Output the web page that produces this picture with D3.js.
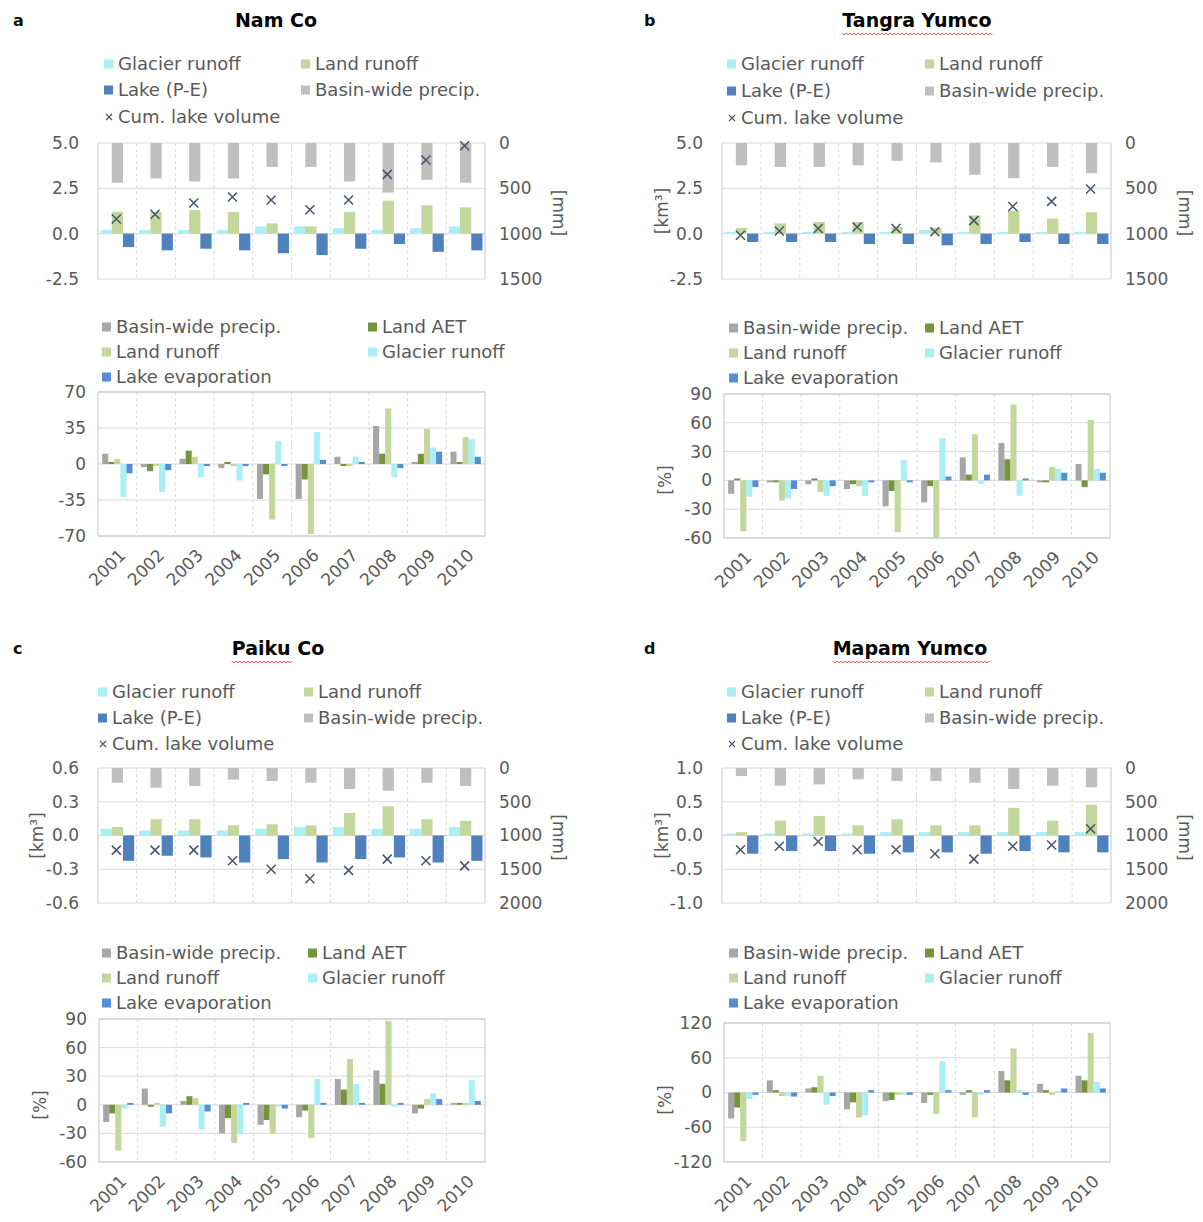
<!DOCTYPE html>
<html><head><meta charset="utf-8">
<script src="https://cdn.jsdelivr.net/npm/d3@7"></script>
<style>
body{margin:0;background:#fff}
svg{display:block}
text{font-family:"DejaVu Sans",sans-serif}
</style>
</head><body>
<svg id="chart" width="1203" height="1222"></svg>
<script>
// ---------------- DATA ----------------
const years = ["2001","2002","2003","2004","2005","2006","2007","2008","2009","2010"];

// a: Nam Co (km3, mm)
const namGlacier = [0.2,0.2,0.2,0.2,0.4,0.4,0.3,0.2,0.3,0.4];
const namLand    = [1.21,1.2,1.3,1.2,0.57,0.4,1.2,1.82,1.56,1.45];
const namLake    = [-0.74,-0.92,-0.83,-0.92,-1.08,-1.18,-0.83,-0.57,-1.0,-0.92];
const namPrecip  = [438,391,424,391,264,264,424,547,406,438];
const namCum     = [0.81,1.07,1.69,2.02,1.86,1.32,1.86,3.27,4.06,4.85];
// a: Nam Co (%)
const namPctPrecip  = [10,-3,5,-4,-34,-34,7,37,2,12];
const namPctAET     = [2,-7,13,2,-10,-15,-2,10,10,2];
const namPctLand    = [5,-2,7,-2,-54,-68,-2,54,34,26];
const namPctGlacier = [-32,-27,-13,-16,22,31,7,-13,16,24];
const namPctEvap    = [-9,-6,-2,-2,-2,4,2,-4,12,7];

// b: Tangra Yumco
const tanGlacier = [0.1,0.1,0.1,0.1,0.1,0.2,0.1,0.1,0.1,0.1];
const tanLand    = [0.31,0.57,0.64,0.64,0.37,0.31,1.01,1.27,0.83,1.18];
const tanLake    = [-0.46,-0.46,-0.46,-0.57,-0.57,-0.64,-0.57,-0.46,-0.57,-0.57];
const tanPrecip  = [246,264,264,246,196,214,351,388,264,333];
const tanCum     = [-0.09,0.15,0.28,0.37,0.28,0.11,0.72,1.5,1.78,2.46];
const tanPctPrecip  = [-14,-2,-4,-9,-27,-23,24,39,-2,17];
const tanPctAET     = [2,-2,2,-4,-11,-6,6,22,-2,-7];
const tanPctLand    = [-53,-21,-12,-6,-54,-62,48,79,14,63];
const tanPctGlacier = [-17,-19,-16,-16,21,44,-4,-16,12,12];
const tanPctEvap    = [-7,-9,-6,-2,-2,4,6,2,8,8];

// c: Paiku Co
const paiGlacier = [0.06,0.045,0.045,0.045,0.06,0.075,0.075,0.06,0.06,0.075];
const paiLand    = [0.075,0.145,0.145,0.09,0.10,0.09,0.20,0.26,0.145,0.13];
const paiLake    = [-0.225,-0.18,-0.195,-0.24,-0.21,-0.24,-0.21,-0.195,-0.24,-0.225];
const paiPrecip  = [218,292,267,173,193,218,312,337,218,267];
const paiCum     = [-0.13,-0.13,-0.13,-0.225,-0.30,-0.385,-0.31,-0.21,-0.225,-0.27];
const paiPctPrecip  = [-18,17,4,-30,-21,-13,27,36,-9,2];
const paiPctAET     = [-9,-2,9,-14,-16,-6,16,22,-4,2];
const paiPctLand    = [-48,2,7,-40,-30,-35,48,88,6,2];
const paiPctGlacier = [-4,-23,-26,-30,-2,27,22,-2,12,26];
const paiPctEvap    = [2,-9,-7,2,-4,2,2,2,6,4];

// d: Mapam Yumco
const mapGlacier = [0.03,0.03,0.03,0.03,0.05,0.05,0.05,0.05,0.05,0.05];
const mapLand    = [0.05,0.22,0.29,0.15,0.24,0.15,0.15,0.41,0.22,0.455];
const mapLake    = [-0.27,-0.23,-0.23,-0.27,-0.25,-0.25,-0.27,-0.23,-0.25,-0.25];
const mapPrecip  = [119,262,243,168,193,193,218,312,262,287];
const mapCum     = [-0.21,-0.16,-0.09,-0.21,-0.21,-0.27,-0.35,-0.16,-0.14,0.10];
const mapPctPrecip  = [-45,21,7,-29,-15,-18,-4,37,15,29];
const mapPctAET     = [-26,4,9,-17,-13,-4,4,21,4,21];
const mapPctLand    = [-84,-6,29,-43,-4,-37,-43,76,-4,103];
const mapPctGlacier = [-11,-6,-21,-40,-4,54,-4,4,3,18];
const mapPctEvap    = [-4,-7,-6,4,-4,4,4,-4,7,7];

// tick labels
const ticksNamTop = [-2.5,0,2.5,5];
const ticksPaiTop = [-0.6,-0.3,0,0.3,0.6];
const ticksMapTop = [-1,-0.5,0,0.5,1];
const ticksMm1500 = [0,500,1000,1500];
const ticksMm2000 = [0,500,1000,1500,2000];
const ticksNamPct = [-70,-35,0,35,70];
const ticksPct90  = [-60,-30,0,30,60,90];
const ticksPct120 = [-120,-60,0,60,120];

const topLegendLabels = ["Glacier runoff","Land runoff","Lake (P-E)","Basin-wide precip.","Cum. lake volume"];
const botLegendLabels = ["Basin-wide precip.","Land AET","Land runoff","Glacier runoff","Lake evaporation"];

// ---------------- STYLE ----------------
const C = {glacier:"#aaeef6", land:"#c3d69b", lake:"#4f81bd", precipTop:"#bfbfbf",
           cum:"#44546a", precipPct:"#a6a6a6", aet:"#77933c", evap:"#558ed5"};
const TXT = "#595959", GRID = "#d9d9d9", AXIS = "#c6c6c6";
const FONT = '"DejaVu Sans",sans-serif';

const svg = d3.select("#chart");
const fmtDash = f => d => f(d).replace("\u2212","-");

function legend(items, cols, rows) {
  const g = svg.append("g").attr("font-size", 18).attr("fill", TXT);
  items.forEach((it, i) => {
    const cx = cols[i % 2], cy = rows[Math.floor(i / 2)];
    if (it.type === "x") {
      g.append("path").attr("d", `M${cx-12},${cy-3}l6,6M${cx-12},${cy+3}l6,-6`)
        .attr("stroke", C.cum).attr("stroke-width", 1.1).attr("fill","none");
    } else {
      g.append("rect").attr("x", cx-14).attr("y", cy-4.5).attr("width", 9).attr("height", 9).attr("fill", it.color);
    }
    g.append("text").attr("x", cx).attr("y", cy).attr("dy","0.36em").text(it.label);
  });
}

function rotLabel(x, y, angle, label) {
  svg.append("text").attr("transform", `translate(${x},${y}) rotate(${angle})`)
    .attr("text-anchor","middle").attr("dy","0.36em").attr("font-size",17).attr("fill",TXT).text(label);
}

function header(p) {
  svg.append("text").attr("x", p.lx).attr("y", p.ly).attr("font-size", 16).attr("font-weight","bold").attr("fill","#111").text(p.letter);
  const t = svg.append("text").attr("x", p.tx).attr("y", p.ty).attr("text-anchor","middle")
    .attr("font-size", 19).attr("font-weight","bold").attr("fill","#000");
  const parts = p.title.split(" ");
  const sp = [];
  parts.forEach((w, i) => { sp.push(t.append("tspan").text(i ? " " + w : w)); });
  if (p.wavy) {
    const total = t.node().getComputedTextLength();
    const x0 = p.tx - total / 2;
    let len = total;
    if (p.wavy === "first") len = sp[0].node().getComputedTextLength();
    let d = `M${x0},${p.ty+6}`;
    for (let xx = x0, k = 0; xx < x0 + len; xx += 2, k++) d += `L${xx+2},${p.ty + 6 + (k % 2 ? 0 : 2)}`;
    svg.append("path").attr("d", d).attr("stroke", "#e0413c").attr("stroke-width", 1).attr("fill","none");
  }
}

function styleTicks(a) {
  a.select(".domain").remove();
  a.selectAll("text").attr("font-size", 17).attr("fill", TXT).attr("font-family", FONT);
}

function drawTop(cfg) {
  const g = svg.append("g");
  const x = d3.scaleBand().domain(years).range([cfg.left, cfg.right]);
  const y = d3.scaleLinear().domain(cfg.yDomain).range([cfg.bottom, cfg.top]);
  const y2 = d3.scaleLinear().domain([cfg.y2Max, 0]).range([cfg.bottom, cfg.top]);
  const inner = d3.scaleBand().domain(["glacier","land","lake"]).range([0, x.bandwidth()]).paddingOuter(0.225);
  const bw = inner.bandwidth();

  g.append("g").selectAll("line").data(cfg.yTicks).join("line")
    .attr("x1", cfg.left).attr("x2", cfg.right).attr("y1", d => y(d)).attr("y2", d => y(d)).attr("stroke", GRID);
  g.append("g").selectAll("line").data(years.slice(1)).join("line")
    .attr("x1", d => x(d)).attr("x2", d => x(d)).attr("y1", cfg.top).attr("y2", cfg.bottom)
    .attr("stroke", GRID).attr("stroke-dasharray", "3,3");

  const series = [
    {key:"glacier", values:cfg.glacier, color:C.glacier},
    {key:"land", values:cfg.land, color:C.land},
    {key:"lake", values:cfg.lake, color:C.lake}];
  series.forEach(s => {
    g.append("g").selectAll("rect").data(years.map((yr, i) => ({yr, v:s.values[i]}))).join("rect")
      .attr("x", d => x(d.yr) + inner(s.key)).attr("width", bw)
      .attr("y", d => Math.min(y(d.v), y(0))).attr("height", d => Math.abs(y(d.v) - y(0)))
      .attr("fill", s.color);
  });
  g.append("g").selectAll("rect").data(years.map((yr, i) => ({yr, v:cfg.precip[i]}))).join("rect")
    .attr("x", d => x(d.yr) + x.bandwidth()/2 - bw/2).attr("width", bw)
    .attr("y", y2(0)).attr("height", d => y2(d.v) - y2(0)).attr("fill", C.precipTop);
  g.append("g").selectAll("path").data(years.map((yr, i) => ({yr, v:cfg.cum[i]}))).join("path")
    .attr("transform", d => `translate(${x(d.yr) + x.bandwidth()/2 - 1},${y(d.v)})`)
    .attr("d", "M-4.5,-4.5L4.5,4.5M-4.5,4.5L4.5,-4.5").attr("stroke", C.cum).attr("stroke-width", 1.5).attr("fill","none");

  g.append("line").attr("x1", cfg.left).attr("x2", cfg.left).attr("y1", cfg.top).attr("y2", cfg.bottom).attr("stroke", AXIS);
  g.append("line").attr("x1", cfg.right).attr("x2", cfg.right).attr("y1", cfg.top).attr("y2", cfg.bottom).attr("stroke", AXIS);

  styleTicks(g.append("g").attr("transform", `translate(${cfg.left},0)`)
    .call(d3.axisLeft(y).tickValues(cfg.yTicks).tickSize(0).tickPadding(19).tickFormat(fmtDash(d3.format(".1f")))));
  styleTicks(g.append("g").attr("transform", `translate(${cfg.right},0)`)
    .call(d3.axisRight(y2).tickValues(cfg.y2Ticks).tickSize(0).tickPadding(14).tickFormat(d3.format("d"))));
  if (cfg.kmLabelX) rotLabel(cfg.kmLabelX, (cfg.top + cfg.bottom)/2, -90, "[km\u00b3]");
  rotLabel(cfg.right + 74, (cfg.top + cfg.bottom)/2 + 2, 90, "[mm]");
  legend([
    {label:topLegendLabels[0], color:C.glacier},
    {label:topLegendLabels[1], color:C.land},
    {label:topLegendLabels[2], color:C.lake},
    {label:topLegendLabels[3], color:C.precipTop},
    {label:topLegendLabels[4], type:"x"}], cfg.legCols, cfg.legRows);
}

function drawBottom(cfg) {
  const g = svg.append("g");
  const x = d3.scaleBand().domain(years).range([cfg.left, cfg.right]);
  const y = d3.scaleLinear().domain(cfg.yDomain).range([cfg.bottom, cfg.top]).clamp(true);
  const keys = ["precip","aet","land","glacier","evap"];
  const inner = d3.scaleBand().domain(keys).range([0, x.bandwidth()]).paddingOuter(0.685);
  const bw = inner.bandwidth();

  g.append("g").selectAll("line").data(cfg.yTicks).join("line")
    .attr("x1", cfg.left).attr("x2", cfg.right).attr("y1", d => y(d)).attr("y2", d => y(d)).attr("stroke", GRID);
  g.append("g").selectAll("line").data(years.slice(1)).join("line")
    .attr("x1", d => x(d)).attr("x2", d => x(d)).attr("y1", cfg.top).attr("y2", cfg.bottom)
    .attr("stroke", GRID).attr("stroke-dasharray", "3,3");

  const series = [
    {key:"precip", values:cfg.precip, color:C.precipPct},
    {key:"aet", values:cfg.aet, color:C.aet},
    {key:"land", values:cfg.land, color:C.land},
    {key:"glacier", values:cfg.glacier, color:C.glacier},
    {key:"evap", values:cfg.evap, color:C.evap}];
  series.forEach(s => {
    g.append("g").selectAll("rect").data(years.map((yr, i) => ({yr, v:s.values[i]}))).join("rect")
      .attr("x", d => x(d.yr) + inner(s.key)).attr("width", bw)
      .attr("y", d => Math.min(y(d.v), y(0))).attr("height", d => Math.abs(y(d.v) - y(0)))
      .attr("fill", s.color);
  });
  g.append("rect").attr("x", cfg.left).attr("y", cfg.top).attr("width", cfg.right - cfg.left)
    .attr("height", cfg.bottom - cfg.top).attr("fill","none").attr("stroke", AXIS);

  styleTicks(g.append("g").attr("transform", `translate(${cfg.left},0)`)
    .call(d3.axisLeft(y).tickValues(cfg.yTicks).tickSize(0).tickPadding(12).tickFormat(fmtDash(d3.format("d")))));

  const bx = g.append("g").attr("transform", `translate(0,${cfg.bottom})`)
    .call(d3.axisBottom(x).tickSize(0).tickPadding(0));
  styleTicks(bx);
  bx.selectAll("text").attr("text-anchor","end").attr("y", 0).attr("dy","0.36em")
    .attr("transform","translate(5,16) rotate(-45)");

  if (cfg.pctLabelX) rotLabel(cfg.pctLabelX, cfg.pctLabelY, -90, "[%]");
  legend([
    {label:botLegendLabels[0], color:C.precipPct},
    {label:botLegendLabels[1], color:C.aet},
    {label:botLegendLabels[2], color:C.land},
    {label:botLegendLabels[3], color:C.glacier},
    {label:botLegendLabels[4], color:C.evap}], cfg.legCols, cfg.legRows);
}

// ---------------- PANELS ----------------
header({letter:"a", lx:13, ly:26, title:"Nam Co", tx:276, ty:27});
header({letter:"b", lx:644, ly:26, title:"Tangra Yumco", tx:917, ty:27, wavy:"all"});
header({letter:"c", lx:13, ly:654, title:"Paiku Co", tx:278, ty:655, wavy:"first"});
header({letter:"d", lx:644, ly:654, title:"Mapam Yumco", tx:910, ty:655, wavy:"all"});

drawTop({left:98, right:485, top:143, bottom:279, yDomain:[-2.5,5], yTicks:ticksNamTop,
  y2Max:1500, y2Ticks:ticksMm1500, glacier:namGlacier, land:namLand, lake:namLake, precip:namPrecip, cum:namCum,
  legCols:[118,315], legRows:[64,90,117]});
drawBottom({left:98, right:485, top:392, bottom:536, yDomain:[-70,70], yTicks:ticksNamPct,
  precip:namPctPrecip, aet:namPctAET, land:namPctLand, glacier:namPctGlacier, evap:namPctEvap,
  legCols:[116,382], legRows:[327,352,377]});

drawTop({left:722, right:1111, top:143, bottom:279, yDomain:[-2.5,5], yTicks:ticksNamTop,
  y2Max:1500, y2Ticks:ticksMm1500, glacier:tanGlacier, land:tanLand, lake:tanLake, precip:tanPrecip, cum:tanCum,
  kmLabelX:662, legCols:[741,939], legRows:[64,91,118]});
drawBottom({left:724, right:1110, top:394, bottom:538, yDomain:[-60,90], yTicks:ticksPct90,
  precip:tanPctPrecip, aet:tanPctAET, land:tanPctLand, glacier:tanPctGlacier, evap:tanPctEvap,
  pctLabelX:665, pctLabelY:480, legCols:[743,939], legRows:[328,353,378]});

drawTop({left:98, right:485, top:768, bottom:903, yDomain:[-0.6,0.6], yTicks:ticksPaiTop,
  y2Max:2000, y2Ticks:ticksMm2000, glacier:paiGlacier, land:paiLand, lake:paiLake, precip:paiPrecip, cum:paiCum,
  kmLabelX:37, legCols:[112,318], legRows:[692,718,744]});
drawBottom({left:99, right:485, top:1019, bottom:1162, yDomain:[-60,90], yTicks:ticksPct90,
  precip:paiPctPrecip, aet:paiPctAET, land:paiPctLand, glacier:paiPctGlacier, evap:paiPctEvap,
  pctLabelX:40, pctLabelY:1105, legCols:[116,322], legRows:[953,978,1003]});

drawTop({left:722, right:1111, top:768, bottom:903, yDomain:[-1,1], yTicks:ticksMapTop,
  y2Max:2000, y2Ticks:ticksMm2000, glacier:mapGlacier, land:mapLand, lake:mapLake, precip:mapPrecip, cum:mapCum,
  kmLabelX:662, legCols:[741,939], legRows:[692,718,744]});
drawBottom({left:724, right:1110, top:1023, bottom:1162, yDomain:[-120,120], yTicks:ticksPct120,
  precip:mapPctPrecip, aet:mapPctAET, land:mapPctLand, glacier:mapPctGlacier, evap:mapPctEvap,
  pctLabelX:665, pctLabelY:1100, legCols:[743,939], legRows:[953,978,1003]});
</script>
</body></html>
